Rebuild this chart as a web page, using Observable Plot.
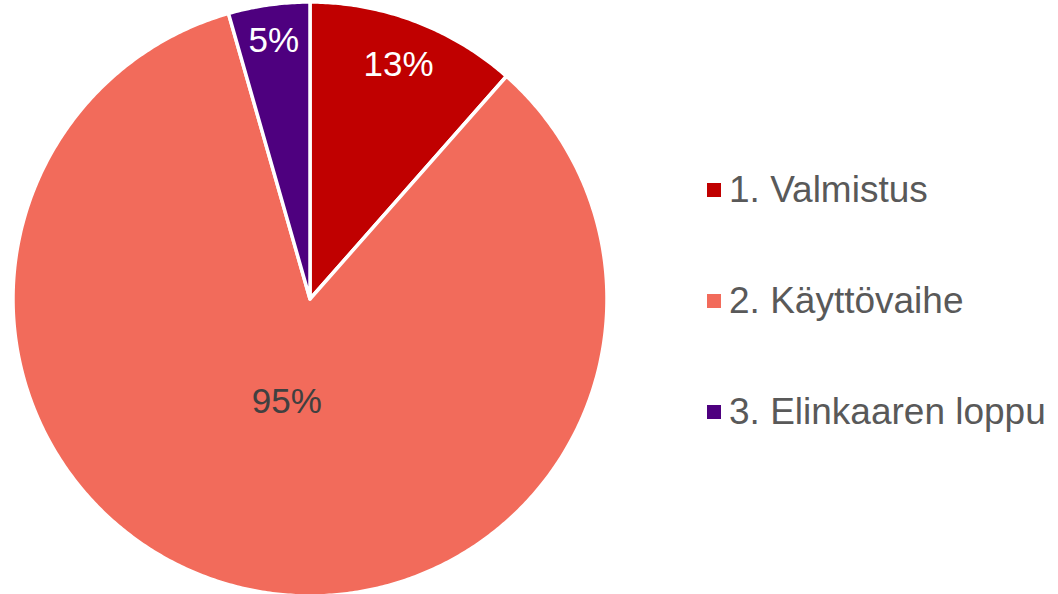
<!DOCTYPE html>
<html><head><meta charset="utf-8">
<script src="https://cdn.jsdelivr.net/npm/d3@7"></script>
<script src="https://cdn.jsdelivr.net/npm/@observablehq/plot@0.6"></script>
<style>
body{margin:0;background:#fff;}
#wrap{position:relative;width:1058px;height:594px;overflow:hidden;}
#wrap svg{position:absolute;left:0;top:0;}
#legend{position:absolute;left:707px;top:170px;font-family:"Liberation Sans",Arial,sans-serif;font-size:37px;color:#595959;}
.item{display:flex;align-items:center;height:40px;margin-bottom:71px;white-space:nowrap;}
.sw{width:14px;height:14px;margin-right:8px;flex:none;}
</style></head><body><div id="wrap"></div>
<script>
const categories = ["1. Valmistus", "2. Käyttövaihe", "3. Elinkaaren loppu"];
const values = [13, 95, 5];
const labels = ["13%", "95%", "5%"];
const colors = ["#C00000", "#F26B5B", "#4E007F"];

const slices = d3.pie().sort(null).value(d => d.value)(
  categories.map((c, i) => ({category: c, value: values[i], label: labels[i]}))
);
const pts = [];
for (const s of slices) {
  pts.push({category: s.data.category, x: 0, y: 0});
  const n = Math.max(2, Math.ceil((s.endAngle - s.startAngle) / (Math.PI / 360)));
  for (let k = 0; k <= n; k++) {
    const a = s.startAngle + (s.endAngle - s.startAngle) * k / n;
    pts.push({category: s.data.category, x: Math.sin(a), y: Math.cos(a)});
  }
}
const lab = slices.map(s => {
  const a = (s.startAngle + s.endAngle) / 2;
  const frac = (s.endAngle - s.startAngle) / (2 * Math.PI);
  const r = frac > 0.5 ? 0.355 : 0.9 - 0.5 * frac;
  return {label: s.data.label, x: r * Math.sin(a), y: r * Math.cos(a), big: frac > 0.5};
});
const font = "Liberation Sans, Arial, sans-serif";
const chart = Plot.plot({
  width: 1058, height: 594, margin: 0,
  x: {domain: [-1, 1], range: [12.5, 606.5], axis: null},
  y: {domain: [-1, 1], range: [595.5, 1.5], axis: null},
  color: {domain: categories, range: colors},
  style: {background: "transparent"},
  marks: [
    Plot.line(pts, {x: "x", y: "y", z: "category", fill: "category", stroke: "white", strokeWidth: 3.5, strokeLinejoin: "round", curve: "linear-closed"}),
    Plot.text(lab.filter(d => !d.big), {x: "x", y: "y", text: "label", fill: "white", fontSize: 35, fontFamily: font}),
    Plot.text(lab.filter(d => d.big), {x: "x", y: "y", text: "label", fill: "#404040", fontSize: 35, fontFamily: font})
  ]
});
const wrap = document.getElementById("wrap");
wrap.appendChild(chart);
const color = chart.scale("color");
const legend = document.createElement("div");
legend.id = "legend";
categories.forEach(c => {
  const item = document.createElement("div");
  item.className = "item";
  const sw = document.createElement("span");
  sw.className = "sw";
  sw.style.background = color.apply(c);
  const t = document.createElement("span");
  t.textContent = c;
  item.appendChild(sw); item.appendChild(t);
  legend.appendChild(item);
});
wrap.appendChild(legend);
</script></body></html>
